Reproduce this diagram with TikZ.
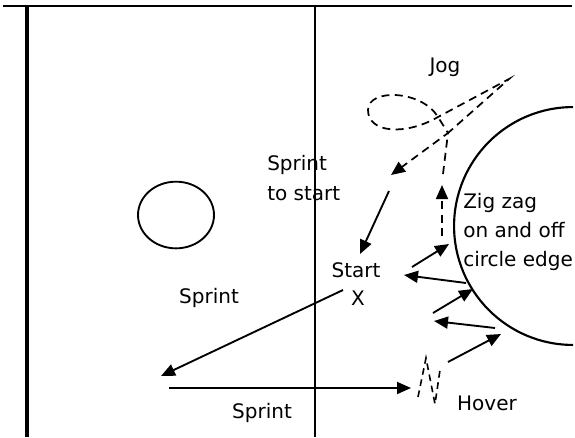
\documentclass[tikz,border=0pt]{standalone}
\usepackage{fontspec}
\setmainfont{DejaVu Sans}
\usepackage{tikz}
\usetikzlibrary{arrows.meta,shapes.geometric}

\begin{document}
\begin{tikzpicture}[
    x=0.75pt,y=-0.75pt,
    lbl/.style={font=\fontsize{15}{22}\selectfont,inner sep=0pt,align=left},
    run/.style={line width=1.4pt,-{Triangle[length=10.5pt,width=9pt]}},
    jog/.style={line width=1.3pt,dash pattern=on 6pt off 4pt},
    edge/.style={line width=1.6pt}
]
\useasboundingbox (0,0) rectangle (575,437);

% field lines
\coordinate (tl) at (3,6);
\coordinate (tr) at (572,6);
\coordinate (lt) at (27,6);
\coordinate (lb) at (27,437);
\coordinate (mt) at (315,6);
\coordinate (mb) at (315,437);
\draw[line width=1.8pt] (tl) -- (tr);
\draw[line width=2.8pt] (lt) -- (lb);
\draw[line width=1.5pt] (mt) -- (mb);

% circles
\node[draw,ellipse,line width=1.4pt,minimum width=57pt,minimum height=50pt,inner sep=0pt] (small) at (176,215) {};
\coordinate (big) at (573,226);
\draw[edge] ([shift={(0,89.2pt)}]big) arc[start angle=90,end angle=270,radius=89.2pt];

% labels
\node[lbl] (jog) at (445,67) {Jog};
\node[lbl,anchor=west] (sts) at (267,178) {Sprint\\to start};
\node[lbl,anchor=west] (zig) at (463,232) {Zig zag\\on and off\\circle edge};
\node[lbl] (start) at (356,270) {Start};
\node[lbl] (x) at (358,298) {X};
\node[lbl] (spr1) at (209,298) {Sprint};
\node[lbl] (spr2) at (262,413) {Sprint};
\node[lbl] (hover) at (487,403) {Hover};

% sprints
\coordinate (s1a) at (389,191);
\coordinate (s1b) at (360,254);
\coordinate (s2a) at (343,290);
\coordinate (s2b) at (161,376);
\coordinate (s3a) at (169,388);
\coordinate (s3b) at (411,388);
\draw[run] (s1a) -- (s1b);
\draw[run] (s2a) -- (s2b);
\draw[run] (s3a) -- (s3b);

% hover
\coordinate (h1) at (418,397);
\coordinate (h2) at (426,358);
\coordinate (h3) at (435,404);
\coordinate (h4) at (440,370);
\draw[line width=1.2pt,dash pattern=on 5pt off 3.5pt] (h1) -- (h2) -- (h3) -- (h4);

% zig zag
\coordinate (z1a) at (448,362);
\coordinate (z1b) at (501,334);
\coordinate (z2a) at (495,328);
\coordinate (z2b) at (434,321);
\coordinate (z3a) at (433,313);
\coordinate (z3b) at (473,289);
\coordinate (z4a) at (466,283);
\coordinate (z4b) at (404,275);
\coordinate (z5a) at (412,267);
\coordinate (z5b) at (449,244);
\draw[run] (z1a) -- (z1b);
\draw[run] (z2a) -- (z2b);
\draw[run] (z3a) -- (z3b);
\draw[run] (z4a) -- (z4b);
\draw[run] (z5a) -- (z5b);

% jog
\coordinate (u0) at (442,236);
\coordinate (u1) at (442,185);
\coordinate (u2) at (443,174);
\coordinate (j1) at (448,133);
\coordinate (j2) at (509,79);
\coordinate (jx) at (438,117);
\coordinate (jl) at (368,110);
\coordinate (jt) at (391,175);
\draw[jog,-{Triangle[length=10.5pt,width=9pt]}] (u0) -- (u1);
\draw[jog,-{Triangle[length=10.5pt,width=9pt]}] (u2) -- (j1) -- (j2) -- (jx)
    .. controls (405,136) and (368,133) .. (jl)
    .. controls (368,88) and (422,90) .. (jx) -- (j1) -- (jt);
\end{tikzpicture}
\end{document}
